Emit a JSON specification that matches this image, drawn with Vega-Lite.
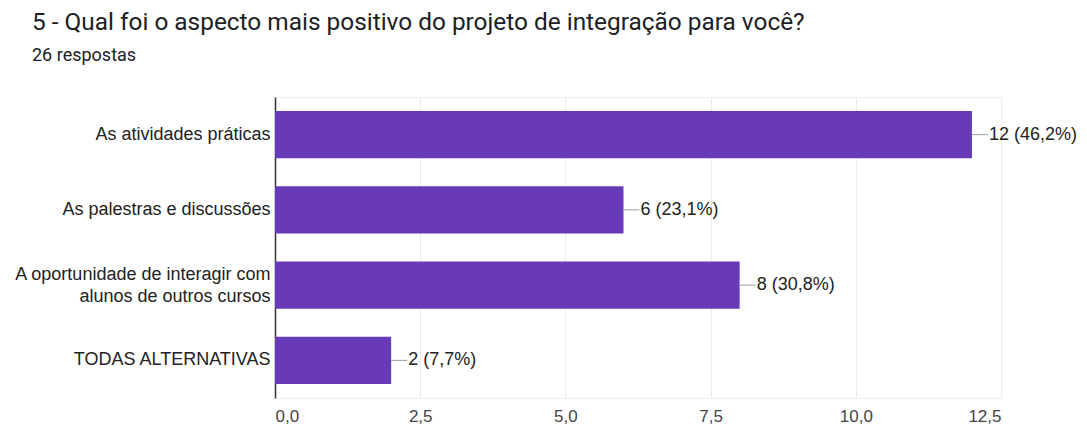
{
  "$schema": "https://vega.github.io/schema/vega-lite/v6.json",
  "width": 726,
  "height": 301,
  "autosize": "none",
  "padding": {"left": 275, "top": 97, "right": 86, "bottom": 30},
  "background": "white",
  "title": {
    "text": "5 - Qual foi o aspecto mais positivo do projeto de integração para você?",
    "subtitle": "26 respostas",
    "anchor": "start",
    "frame": "group",
    "dx": -243,
    "offset": 31,
    "font": "Roboto",
    "fontSize": 24.4,
    "fontWeight": "normal",
    "color": "#202124",
    "subtitleFont": "Roboto",
    "subtitleFontSize": 18,
    "subtitleColor": "#202124",
    "subtitlePadding": 12
  },
  "config": {
    "view": {"stroke": "#ebebeb"},
    "font": "Liberation Sans"
  },
  "data": {
    "values": [
      {"label": "As atividades práticas", "count": 12, "text": "12 (46,2%)"},
      {"label": "As palestras e discussões", "count": 6, "text": "6 (23,1%)"},
      {"label": "A oportunidade de interagir com alunos de outros cursos", "count": 8, "text": "8 (30,8%)"},
      {"label": "TODAS ALTERNATIVAS", "count": 2, "text": "2 (7,7%)"}
    ]
  },
  "encoding": {
    "y": {
      "field": "label",
      "type": "nominal",
      "sort": null,
      "scale": {"paddingInner": 0.37, "paddingOuter": 0.185},
      "axis": {
        "title": null,
        "domain": true,
        "domainColor": "#333333",
        "domainWidth": 1.5,
        "ticks": false,
        "grid": false,
        "labelPadding": 5,
        "labelFontSize": 18,
        "labelColor": "#222222",
        "labelFont": "Liberation Sans",
        "labelLimit": 0,
        "labelLineHeight": 22,
        "labelOffset": {"condition": {"test": "datum.label == 'A oportunidade de interagir com alunos de outros cursos'", "value": -10}, "value": 0},
        "labelExpr": "datum.label == 'A oportunidade de interagir com alunos de outros cursos' ? ['A oportunidade de interagir com', 'alunos de outros cursos'] : datum.label"
      }
    }
  },
  "layer": [
    {
      "mark": {"type": "bar", "color": "#673ab7"},
      "encoding": {
        "x": {
          "field": "count",
          "type": "quantitative",
          "scale": {"domain": [0, 12.5], "nice": false},
          "axis": {
            "title": null,
            "values": [0, 2.5, 5, 7.5, 10, 12.5],
            "labelExpr": "replace(format(datum.value, '.1f'), '.', ',')",
            "grid": true,
            "gridColor": "#ebebeb",
            "domain": false,
            "ticks": false,
            "labelPadding": 10,
            "labelFontSize": 17,
            "labelColor": "#444444",
            "labelFont": "Liberation Sans"
          }
        }
      }
    },
    {
      "mark": {"type": "rule", "color": "#9e9e9e", "x2Offset": 16},
      "encoding": {
        "x": {"field": "count", "type": "quantitative"},
        "x2": {"field": "count"}
      }
    },
    {
      "mark": {"type": "text", "align": "left", "dx": 17, "fontSize": 18, "color": "#222222", "font": "Liberation Sans"},
      "encoding": {
        "x": {"field": "count", "type": "quantitative"},
        "text": {"field": "text"}
      }
    }
  ]
}
